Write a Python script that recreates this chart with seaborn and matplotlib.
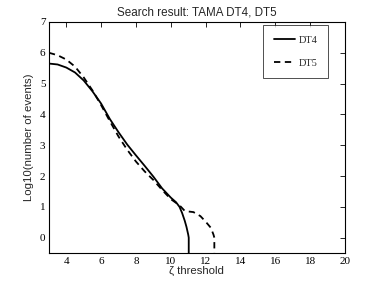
import pandas as pd
import matplotlib
matplotlib.use("Agg")
import matplotlib.pyplot as plt
import seaborn as sns

# zeta threshold vs log10(number of events)
dt4_x = [3.0, 3.5, 4.0, 4.5, 5.0, 5.5, 6.0, 6.5, 7.0, 7.5, 8.0, 8.5, 9.0, 9.5,
         10.0, 10.3, 10.5, 10.65, 10.8, 10.9, 11.0, 11.03, 11.03]
dt4_y = [5.65, 5.62, 5.52, 5.36, 5.1, 4.75, 4.35, 3.85, 3.42, 3.02, 2.67, 2.33, 1.98, 1.6,
         1.3, 1.15, 1.0, 0.8, 0.55, 0.35, 0.1, 0.0, -0.5]

dt5_x = [3.0, 3.5, 4.0, 4.5, 5.0, 5.5, 6.0, 6.5, 7.0, 7.5, 8.0, 8.5, 9.0, 9.5,
         10.0, 10.5, 10.8, 11.0, 11.3, 11.7, 12.0, 12.3, 12.45, 12.5, 12.5]
dt5_y = [6.0, 5.92, 5.78, 5.55, 5.2, 4.78, 4.3, 3.78, 3.28, 2.85, 2.47, 2.15, 1.87, 1.55,
         1.25, 1.05, 0.87, 0.85, 0.83, 0.7, 0.52, 0.32, 0.1, 0.0, -0.5]

x_ticks = [4, 6, 8, 10, 12, 14, 16, 18, 20]
y_ticks = [0, 1, 2, 3, 4, 5, 6, 7]

df4 = pd.DataFrame({'zeta': dt4_x, 'logn': dt4_y})
df5 = pd.DataFrame({'zeta': dt5_x, 'logn': dt5_y})

sns.set_style("white")
plt.rcParams['font.family'] = ['Liberation Sans', 'DejaVu Sans']

fig = plt.figure(figsize=(3.82, 2.85), dpi=100)
ax = fig.add_axes([0.128, 0.112, 0.775, 0.811])

sns.lineplot(data=df4, x='zeta', y='logn', sort=False, estimator=None,
             color='black', linewidth=1.3, label='DT4', ax=ax)
sns.lineplot(data=df5, x='zeta', y='logn', sort=False, estimator=None,
             color='black', linewidth=1.3, linestyle=(0, (3.5, 2.5)), label='DT5', ax=ax)

ax.set_xlim(3, 20)
ax.set_ylim(-0.5, 7)
ax.set_xticks(x_ticks)
ax.set_yticks(y_ticks)
ax.tick_params(direction='in', length=3.5, width=0.6, top=True, right=True,
               labelsize=8, pad=2.5, colors='black')
for lab in ax.get_xticklabels() + ax.get_yticklabels():
    lab.set_family('Liberation Serif')
for s in ax.spines.values():
    s.set_color('black')
    s.set_linewidth(0.8)

ax.set_xlabel('ζ threshold', fontsize=8.2, labelpad=0)
ax.set_ylabel('Log10(number of events)', fontsize=8.2, labelpad=4)
ax.set_title('Search result: TAMA DT4, DT5', fontsize=8.4, pad=5)

leg = ax.legend(loc='upper right', bbox_to_anchor=(0.943, 0.987), borderaxespad=0,
                frameon=True, fancybox=False, edgecolor='black', labelspacing=1.35,
                handlelength=2.0, borderpad=1.0, handletextpad=0.4,
                prop={'family': 'Liberation Serif', 'size': 7.5})
leg.get_frame().set_linewidth(0.6)

fig.savefig('out.png', dpi=100)
